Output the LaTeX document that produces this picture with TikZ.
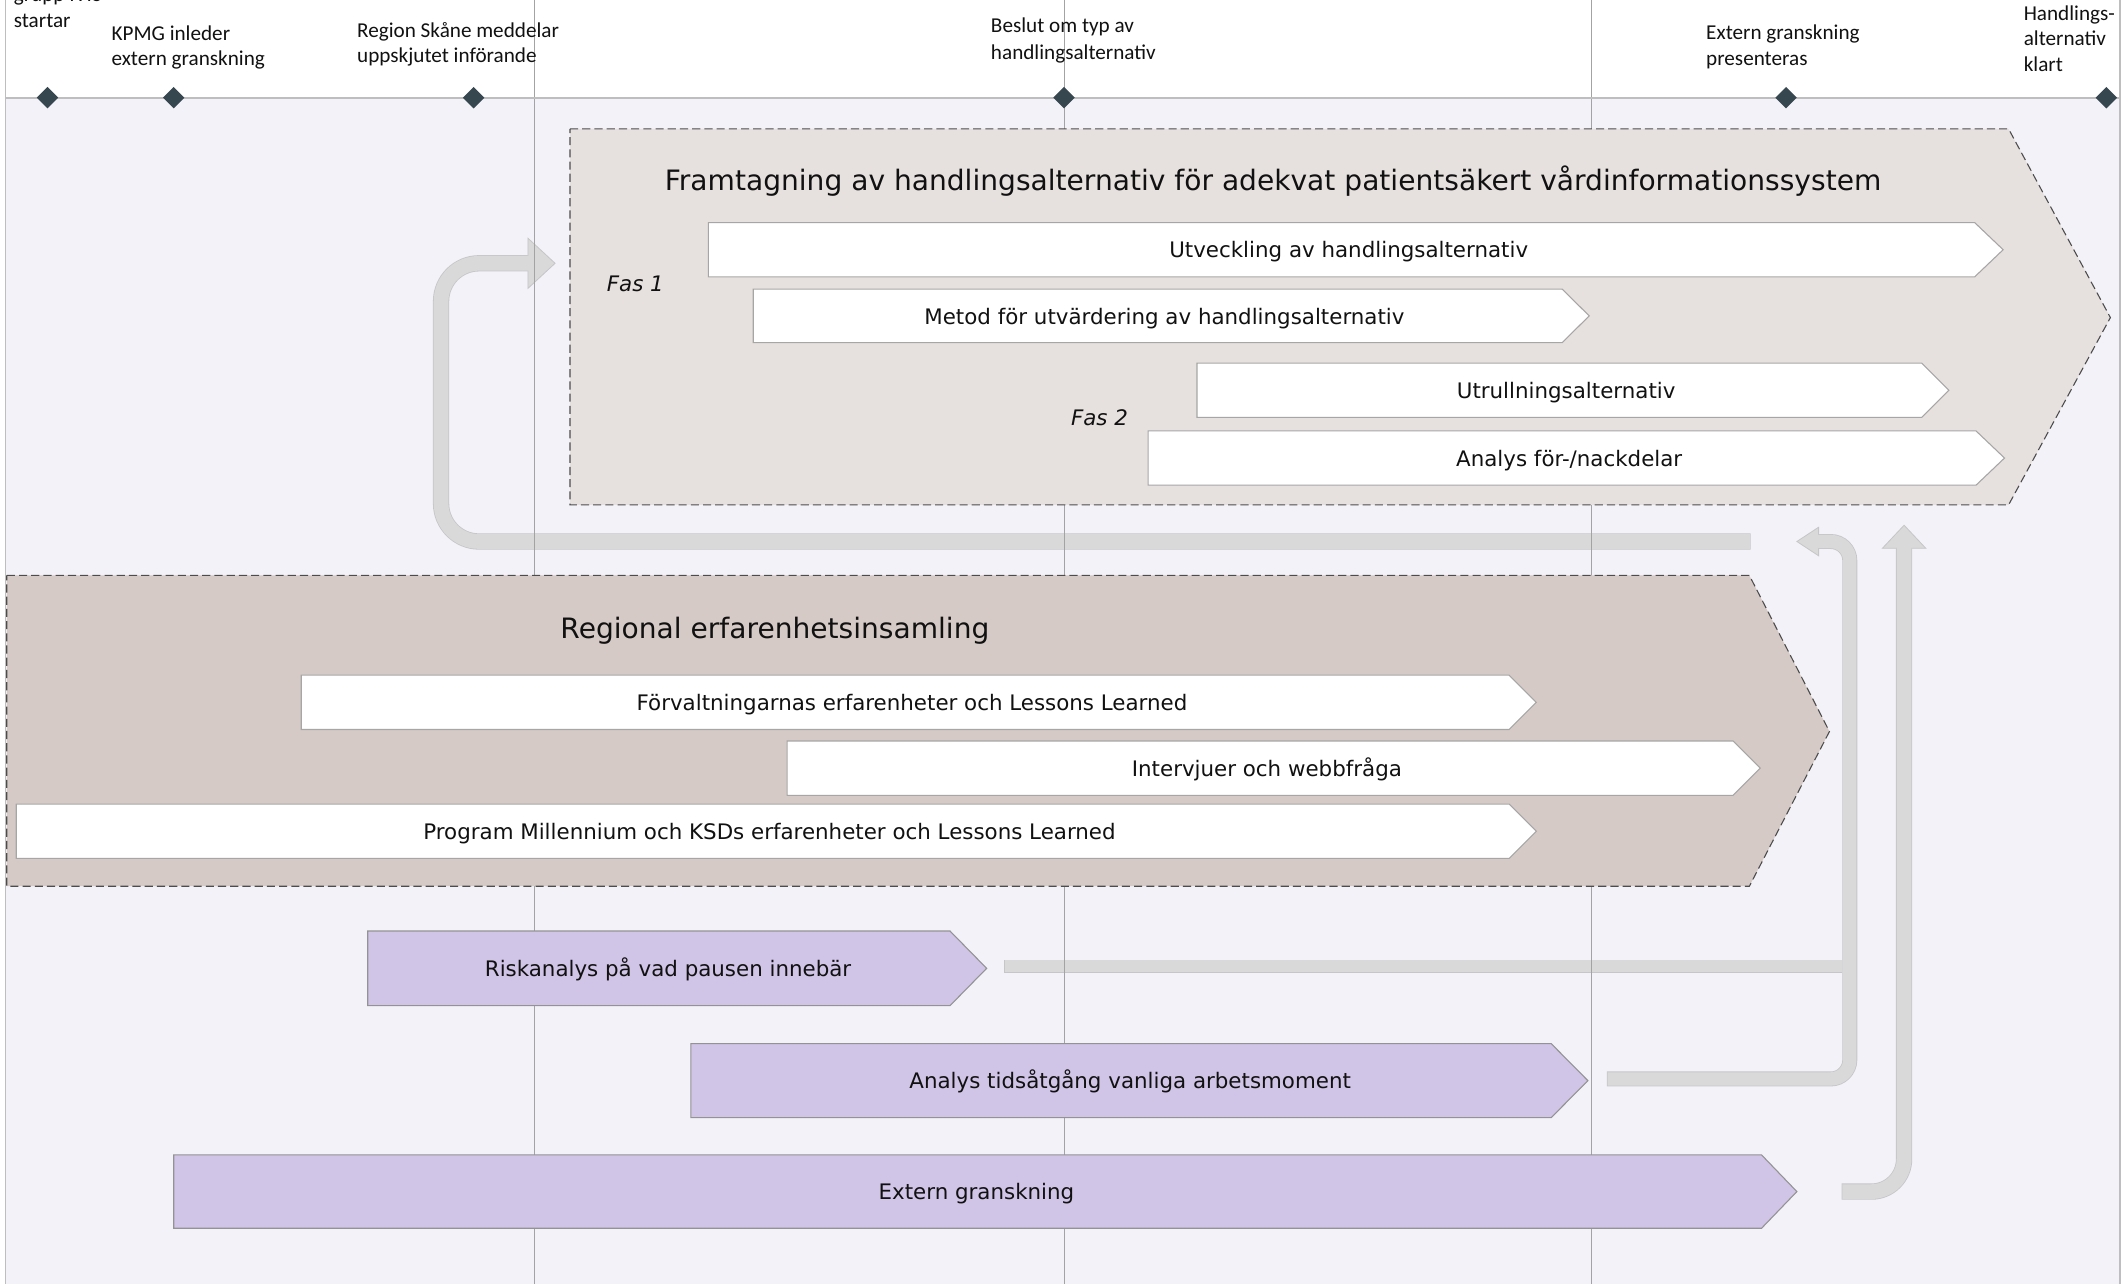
\documentclass[tikz,border=0pt]{standalone}
\usepackage{fontspec}
\setmainfont{DejaVu Sans}
\newfontfamily\msfont{Carlito}
\usetikzlibrary{shapes.geometric}
\definecolor{bglav}{HTML}{F3F2F8}
\definecolor{gridc}{HTML}{A3A3A3}
\definecolor{tlc}{HTML}{BEBEBE}
\definecolor{regA}{HTML}{E6E1DF}
\definecolor{regB}{HTML}{D5CAC6}
\definecolor{purp}{HTML}{D0C4E7}
\definecolor{dia}{HTML}{37474F}
\definecolor{connf}{HTML}{D9D9D9}
\definecolor{connb}{HTML}{C6C6C6}
\definecolor{txt}{HTML}{111111}
\newcommand\mychev[8]{%
  \path[#7] (#2,#3) -- (#5,#3) -- (#6,{(#3+#4)/2}) -- (#5,#4) -- (#2,#4) -- cycle;
  \node[boxlabel] (#1) at ({(#2+(#5+#6)/2)/2},{(#3+#4)/2+6}) {#8};}
\begin{document}
\begin{tikzpicture}[x=1pt,y=-1pt,
  boxlabel/.style={anchor=base, inner sep=0pt, text=txt, font=\fontsize{15.75}{18}\selectfont},
  titlelabel/.style={anchor=base, inner sep=0pt, text=txt, font=\fontsize{20.7}{24}\selectfont},
  faslabel/.style={anchor=base west, inner sep=0pt, text=txt, font=\itshape\fontsize{15.75}{18}\selectfont},
  mslabel/.style={anchor=base west, inner sep=0pt, text=txt, font=\msfont\fontsize{15.6}{19}\selectfont},
  wbox/.style={fill=white, draw=gray!70, line width=0.8},
  pbox/.style={fill=purp, draw=gray!85, line width=0.8},
  regstyle/.style={draw=black!70, line width=0.8, dash pattern=on 6pt off 3pt},
  connbd/.style={draw=connb, line width=#1, line cap=butt},
  connin/.style={draw=connf, line width=#1-1.2, line cap=butt},
  headst/.style={fill=connf, draw=connb, line width=0.6},
  mstone/.style={diamond, fill=dia, minimum width=16, minimum height=16, inner sep=0pt}
]
\fill[white] (0,0) rectangle (1568,946);
\fill[bglav] (4,72) rectangle (1562,946);
\useasboundingbox (0,0) rectangle (1568,946);

% connectors
\coordinate (l0) at (1290,399); \coordinate (l1) at (389,194);
\draw[connbd=12, rounded corners=28] (l0) -- (325,399) -- (325,194) -- (l1);
\path[headst] (389,175.5) -- (409,194) -- (389,212.5) -- cycle;
\draw[connin=12, rounded corners=28, shorten <=0.6pt, shorten >=-0.8pt] (l0) -- (325,399) -- (325,194) -- (l1);

\coordinate (rk0) at (740,712); \coordinate (rk1) at (1357,712);
\draw[connbd=10] (rk0) -- (rk1);
\draw[connin=10, shorten <=0.6pt] (rk0) -- (rk1);

\coordinate (h0) at (1184,795); \coordinate (h1) at (1340,399);
\draw[connbd=11, rounded corners=14] (h0) -- (1363,795) -- (1363,399) -- (h1);
\path[headst] (1340,388.5) -- (1324,399) -- (1340,409.5) -- cycle;
\draw[connin=11, rounded corners=14, shorten <=0.6pt, shorten >=-0.8pt] (h0) -- (1363,795) -- (1363,399) -- (h1);

\coordinate (e0) at (1357,878); \coordinate (e1) at (1403,404);
\draw[connbd=12, rounded corners=24] (e0) -- (1403,878) -- (e1);
\path[headst] (1387,404) -- (1403,387) -- (1419,404) -- cycle;
\draw[connin=12, rounded corners=24, shorten <=0.6pt, shorten >=-0.8pt] (e0) -- (1403,878) -- (e1);

% grid and frame
\foreach \gx in {394,784,1173} \draw[gridc, line width=0.7] (\gx,0) -- (\gx,946);
\draw[tlc, line width=1.2] (4,0) -- (4,946);
\draw[tlc, line width=1.2] (1562,0) -- (1562,946);
\draw[tlc, line width=1.6] (4,72) -- (1562,72);

% milestones
\node[mstone] (m1) at (35,72) {};
\node[mstone] (m2) at (128,72) {};
\node[mstone] (m3) at (349,72) {};
\node[mstone] (m4) at (784,72) {};
\node[mstone] (m5) at (1316,72) {};
\node[mstone] (m6) at (1552,72) {};

\node[mslabel] (t1a) at (10,1) {grupp IVIS};
\node[mslabel] (t1b) at (10,20.3) {startar};
\node[mslabel] (t2a) at (82,29.5) {KPMG inleder};
\node[mslabel] (t2b) at (82,48) {extern granskning};
\node[mslabel] (t3a) at (263,27.5) {Region Skåne meddelar};
\node[mslabel] (t3b) at (263,46) {uppskjutet införande};
\node[mslabel] (t4a) at (730,24) {Beslut om typ av};
\node[mslabel] (t4b) at (730,43.5) {handlingsalternativ};
\node[mslabel] (t5a) at (1257,29) {Extern granskning};
\node[mslabel] (t5b) at (1257,48) {presenteras};
\node[mslabel] (t6a) at (1491,15.2) {Handlings-};
\node[mslabel] (t6b) at (1491,33.8) {alternativ};
\node[mslabel] (t6c) at (1491,52.6) {klart};

% region 1
\path[fill=regA, regstyle] (420,95) -- (1480,95) -- (1555,234) -- (1480,372) -- (420,372) -- cycle;
\node[titlelabel] (ra) at (938,140) {Framtagning av handlingsalternativ för adekvat patientsäkert vårdinformationssystem};
\node[faslabel] (f1) at (447,215) {Fas 1};
\node[faslabel] (f2) at (789,313.5) {Fas 2};
\mychev{u1}{522}{164}{204}{1455}{1476}{wbox}{Utveckling av handlingsalternativ}
\mychev{u2}{555}{213}{252.5}{1151}{1171}{wbox}{Metod för utvärdering av handlingsalternativ}
\mychev{u3}{882}{267.5}{307.5}{1416}{1436}{wbox}{Utrullningsalternativ}
\mychev{u4}{846}{317.5}{357.5}{1456}{1477}{wbox}{Analys för-/nackdelar}

% region 2
\path[fill=regB, regstyle] (5,424) -- (1289,424) -- (1348,539) -- (1289,653) -- (5,653) -- cycle;
\node[titlelabel] (rb) at (571,470.4) {Regional erfarenhetsinsamling};
\mychev{r1}{222}{497.5}{537.5}{1112}{1132}{wbox}{Förvaltningarnas erfarenheter och Lessons Learned}
\mychev{r2}{580}{546}{586}{1277}{1297}{wbox}{Intervjuer och webbfråga}
\mychev{r3}{12}{592.5}{632.5}{1112}{1132}{wbox}{Program Millennium och KSDs erfarenheter och Lessons Learned}

% purple tasks
\mychev{p1}{271}{686}{741}{700}{727}{pbox}{Riskanalys på vad pausen innebär}
\mychev{p2}{509}{769}{823.5}{1143}{1170}{pbox}{Analys tidsåtgång vanliga arbetsmoment}
\mychev{p3}{128}{851}{905}{1298}{1324}{pbox}{Extern granskning}
\end{tikzpicture}
\end{document}
